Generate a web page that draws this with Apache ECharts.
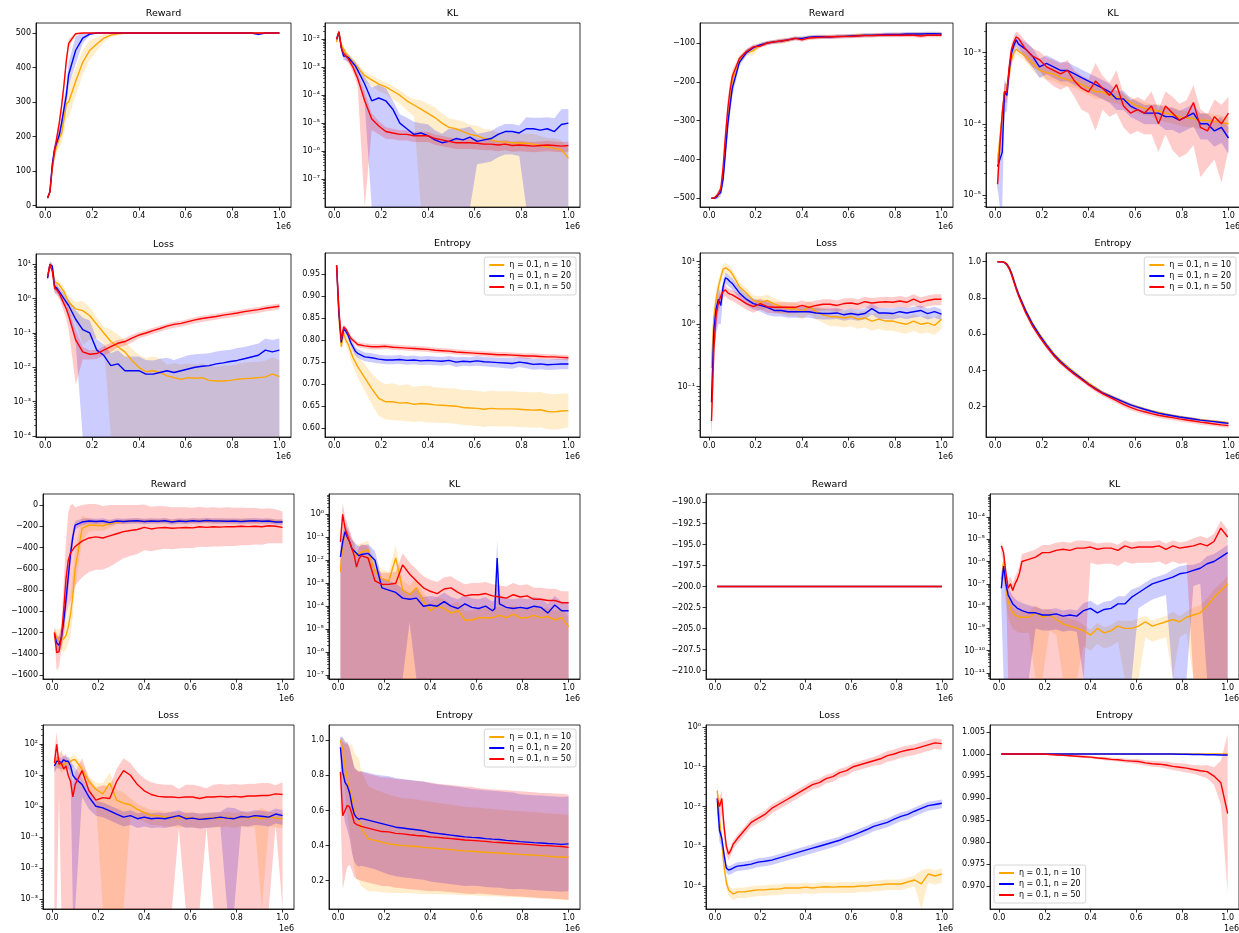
<!DOCTYPE html>
<html><head><meta charset="utf-8">
<script src="https://cdn.jsdelivr.net/npm/echarts@6/dist/echarts.min.js"></script>
<style>html,body{margin:0;padding:0;background:#fff}#c{width:1239px;height:933px}</style>
</head><body><div id="c"></div>
<script>
// ---------- shared x grid (units of 1e6 steps) ----------
const X = [0.01,0.02,0.03,0.04,0.05,0.06,0.07,0.08,0.09,0.10,
  0.13,0.16,0.19,0.22,0.25,0.28,0.31,0.34,0.37,0.40,
  0.43,0.46,0.49,0.52,0.55,0.58,0.61,0.64,0.67,0.70,
  0.73,0.76,0.79,0.82,0.85,0.88,0.91,0.94,0.97,1.00];
const X_SPIKE = [0.01,0.02,0.03,0.04,0.05,0.06,0.07,0.08,0.09,0.10,
  0.13,0.16,0.19,0.22,0.25,0.28,0.31,0.34,0.37,0.40,
  0.43,0.46,0.49,0.52,0.55,0.58,0.61,0.64,0.67,0.68,0.69,0.70,
  0.73,0.76,0.79,0.82,0.85,0.88,0.91,0.94,0.97,1.00];
const X_TICKS = [0, 0.2, 0.4, 0.6, 0.8, 1.0];
const NAMES = ['η = 0.1, n = 10', 'η = 0.1, n = 20', 'η = 0.1, n = 50'];

// ===== Group A (top-left) =====
const A_REW_TICKS = [0,100,200,300,400,500];
const A_REW_M10 = [22,40,110,150,175,195,210,250,295,300, 360,415,450,468,485,494,498,499,500,500, 500,500,500,500,500,500,500,500,500,500, 500,500,500,500,500,500,500,500,500,500];
const A_REW_S10 = [5,5,15,20,20,25,30,40,45,45, 40,35,28,20,12,6,3,2,1,1, 1,1,1,1,1,1,1,1,1,1, 1,1,1,1,1,1,1,1,1,1];
const A_REW_M20 = [22,40,120,165,185,205,240,280,320,380, 450,485,497,500,500,500,500,500,500,500, 500,500,500,500,500,500,500,500,500,500, 500,500,500,500,500,500,496,500,500,500];
const A_REW_S20 = [5,5,12,15,15,18,20,25,30,35, 40,15,4,1,1,1,1,1,1,1, 1,1,1,1,1,1,1,1,1,1, 1,1,1,1,1,1,3,1,1,1];
const A_REW_M50 = [22,40,110,160,200,240,290,350,420,470, 498,500,500,500,500,500,500,500,500,500, 500,500,500,500,500,500,500,500,500,500, 500,500,500,500,500,500,500,500,500,500];
const A_REW_S50 = [5,5,12,15,15,18,20,20,15,12, 3,1,1,1,1,1,1,1,1,1, 1,1,1,1,1,1,1,1,1,1, 1,1,1,1,1,1,1,1,1,1];

// log panels: means as log10 exponents, spread as std / mean
const A_KL_TICKS = [-7,-6,-5,-4,-3,-2];
const A_KL_M10 = [-2.1,-1.75,-2.2,-2.35,-2.5,-2.6,-2.7,-2.8,-2.9,-3.0, -3.3,-3.45,-3.6,-3.7,-3.85,-4.0,-4.2,-4.35,-4.5,-4.65, -4.8,-5.0,-5.15,-5.2,-5.3,-5.4,-5.45,-5.55,-5.6,-5.66, -5.68,-5.7,-5.72,-5.72,-5.75,-5.8,-5.85,-5.9,-5.95,-6.25];
const A_KL_R10 = [0.2,0.2,0.25,0.3,0.3,0.3,0.3,0.35,0.35,0.4, 0.4,0.4,0.45,0.45,0.5,0.5,0.55,0.6,1.1,1.2, 1.3,1.2,1.1,1.1,1.3,1.2,1.3,1.2,1.3,1.1, 1.2,1.2,1.3,1.2,1.3,1.2,1.1,1.3,1.2,1.2];
const A_KL_M20 = [-2.0,-1.75,-2.3,-2.6,-2.6,-2.65,-2.75,-2.85,-2.95,-3.1, -3.6,-4.2,-4.1,-4.2,-4.5,-5.0,-5.2,-5.4,-5.35,-5.45, -5.6,-5.7,-5.65,-5.55,-5.6,-5.5,-5.65,-5.6,-5.55,-5.4, -5.3,-5.3,-5.35,-5.2,-5.2,-5.25,-5.2,-5.3,-5.05,-5.0];
const A_KL_R20 = [0.2,0.2,0.3,0.3,0.3,0.3,0.3,0.35,0.4,0.5, 0.8,2.0,2.0,1.8,1.05,1.1,1.5,1.8,1.2,1.6, 1.2,1.1,1.8,1.2,1.6,1.4,0.85,0.85,0.85,0.85, 0.85,0.85,0.85,1.6,1.5,1.8,1.6,2.0,2.5,2.2];
const A_KL_M50 = [-2.0,-1.72,-2.3,-2.5,-2.6,-2.7,-2.85,-3.0,-3.2,-3.4, -4.2,-4.85,-5.1,-5.3,-5.35,-5.4,-5.4,-5.45,-5.45,-5.45, -5.55,-5.6,-5.65,-5.7,-5.7,-5.7,-5.72,-5.75,-5.75,-5.78, -5.75,-5.8,-5.78,-5.8,-5.82,-5.8,-5.78,-5.8,-5.82,-5.8];
const A_KL_R50 = [0.2,0.2,0.2,0.25,0.3,0.3,0.3,0.35,0.4,0.5, 1.2,0.6,0.5,0.45,0.4,0.4,0.4,0.4,0.4,0.4, 0.4,0.4,0.4,0.4,0.4,0.4,0.4,0.4,0.4,0.4, 0.4,0.4,0.4,0.4,0.4,0.4,0.4,0.4,0.4,0.4];

const A_LOSS_TICKS = [-4,-3,-2,-1,0,1];
const A_LOSS_M10 = [0.6,1.0,0.9,0.5,0.45,0.4,0.3,0.2,0.05,-0.1, -0.3,-0.35,-0.5,-0.75,-1.0,-1.25,-1.4,-1.55,-1.8,-2.0, -2.13,-2.1,-2.15,-2.25,-2.3,-2.35,-2.3,-2.32,-2.3,-2.38, -2.4,-2.4,-2.38,-2.35,-2.33,-2.32,-2.3,-2.28,-2.2,-2.27];
const A_LOSS_R10 = [0.2,0.2,0.2,0.3,0.3,0.3,0.3,0.4,0.4,0.5, 0.6,0.9,0.8,0.6,0.5,1.2,1.3,1.1,1.2,1.3, 1.5,1.6,1.6,1.1,1.6,1.7,1.6,1.5,1.6,1.6, 1.6,1.8,1.7,1.8,1.9,2.0,1.9,2.0,2.1,2.0];
const A_LOSS_M20 = [0.6,1.0,0.95,0.35,0.3,0.2,0.1,0.0,-0.1,-0.2, -0.6,-0.9,-1.0,-1.5,-1.65,-1.95,-1.9,-2.1,-2.1,-2.1, -2.2,-2.2,-2.15,-2.1,-2.15,-2.1,-2.05,-2.0,-1.97,-1.95, -1.9,-1.87,-1.83,-1.8,-1.75,-1.7,-1.65,-1.5,-1.55,-1.5];
const A_LOSS_R20 = [0.2,0.2,0.2,0.3,0.3,0.3,0.35,0.4,0.4,0.5, 0.8,1.2,1.3,1.1,1.05,1.3,1.5,1.6,1.6,1.6, 1.6,1.5,1.5,1.4,1.3,1.4,1.5,1.4,1.3,1.3, 1.3,1.3,1.2,1.3,1.2,1.2,1.2,1.2,1.2,1.2];
const A_LOSS_M50 = [0.65,1.0,0.8,0.3,0.25,0.15,0.0,-0.15,-0.3,-0.5, -1.2,-1.55,-1.62,-1.6,-1.5,-1.4,-1.3,-1.25,-1.15,-1.06, -1.0,-0.93,-0.87,-0.8,-0.75,-0.72,-0.67,-0.62,-0.58,-0.55, -0.52,-0.48,-0.45,-0.42,-0.38,-0.35,-0.32,-0.28,-0.25,-0.22];
const A_LOSS_R50 = [0.2,0.2,0.2,0.3,0.3,0.3,0.35,0.4,0.5,0.6, 0.95,0.4,0.3,0.3,0.3,0.3,0.25,0.25,0.25,0.2, 0.2,0.2,0.2,0.2,0.2,0.2,0.2,0.2,0.2,0.2, 0.2,0.2,0.2,0.2,0.2,0.2,0.2,0.2,0.2,0.2];

const A_ENT_TICKS = [0.60,0.65,0.70,0.75,0.80,0.85,0.90,0.95];
const A_ENT_M10 = [0.97,0.85,0.785,0.815,0.80,0.79,0.775,0.76,0.75,0.74, 0.715,0.69,0.668,0.66,0.66,0.657,0.658,0.654,0.656,0.655, 0.653,0.652,0.651,0.65,0.647,0.646,0.645,0.643,0.645,0.644, 0.644,0.644,0.643,0.642,0.641,0.642,0.638,0.637,0.639,0.64];
const A_ENT_S10 = [0.003,0.005,0.008,0.01,0.012,0.015,0.018,0.02,0.022,0.025, 0.03,0.035,0.04,0.04,0.042,0.04,0.042,0.04,0.04,0.042, 0.04,0.04,0.04,0.04,0.04,0.04,0.04,0.04,0.04,0.04, 0.04,0.04,0.04,0.04,0.04,0.04,0.04,0.04,0.04,0.038];
const A_ENT_M20 = [0.97,0.86,0.795,0.825,0.82,0.81,0.795,0.785,0.775,0.77, 0.762,0.76,0.757,0.755,0.755,0.756,0.754,0.755,0.753,0.754, 0.753,0.752,0.754,0.75,0.752,0.751,0.753,0.751,0.75,0.749, 0.748,0.747,0.75,0.748,0.745,0.746,0.744,0.745,0.746,0.746];
const A_ENT_S20 = [0.004,0.006,0.008,0.008,0.008,0.008,0.008,0.009,0.01,0.01, 0.01,0.01,0.01,0.01,0.01,0.01,0.01,0.01,0.01,0.01, 0.01,0.01,0.01,0.011,0.01,0.01,0.011,0.01,0.011,0.011, 0.012,0.012,0.011,0.012,0.012,0.012,0.012,0.012,0.012,0.012];
const A_ENT_M50 = [0.97,0.87,0.80,0.83,0.825,0.815,0.805,0.80,0.795,0.79, 0.787,0.785,0.785,0.786,0.784,0.783,0.782,0.781,0.78,0.779, 0.777,0.776,0.775,0.773,0.772,0.771,0.77,0.769,0.768,0.767, 0.767,0.766,0.765,0.764,0.764,0.763,0.762,0.762,0.761,0.76];
const A_ENT_S50 = [0.004,0.006,0.006,0.006,0.006,0.006,0.006,0.006,0.006,0.006, 0.006,0.006,0.006,0.006,0.006,0.006,0.006,0.006,0.006,0.006, 0.006,0.006,0.006,0.006,0.006,0.006,0.006,0.006,0.006,0.006, 0.006,0.006,0.006,0.006,0.006,0.006,0.006,0.006,0.006,0.006];

// ===== Group B (top-right) =====
const B_REW_TICKS = [-500,-400,-300,-200,-100];
const B_REW_M10 = [-500,-500,-495,-490,-480,-440,-370,-300,-250,-195, -145,-125,-120,-105,-100,-97,-95,-93,-88,-88, -86,-85,-84,-84,-83,-83,-82,-80,-80,-80, -79,-79,-78,-78,-78,-77,-77,-77,-76,-77];
const B_REW_S10 = [2,2,5,8,10,20,25,25,20,15, 10,8,12,6,5,5,8,5,5,5, 5,5,5,5,5,5,5,5,5,5, 5,5,5,5,5,5,5,5,5,5];
const B_REW_M20 = [-500,-500,-498,-490,-485,-450,-380,-310,-260,-215, -150,-125,-112,-105,-100,-97,-95,-92,-88,-88, -85,-84,-84,-85,-83,-83,-82,-81,-80,-80, -79,-78,-78,-78,-77,-77,-77,-76,-76,-77];
const B_REW_S20 = [2,2,5,10,10,20,30,30,25,20, 10,8,6,5,5,5,5,5,5,5, 5,5,5,5,5,5,5,5,5,5, 5,5,5,5,5,5,5,5,5,5];
const B_REW_M50 = [-500,-500,-495,-488,-475,-420,-340,-270,-220,-185, -140,-122,-110,-108,-100,-97,-95,-92,-88,-92, -87,-86,-85,-84,-84,-83,-83,-82,-81,-81, -80,-80,-80,-80,-80,-80,-82,-80,-80,-80];
const B_REW_S50 = [2,2,5,8,10,20,25,25,20,15, 8,7,6,5,5,5,5,5,5,5, 5,5,5,5,5,5,5,5,5,5, 5,5,5,5,5,5,5,5,5,5];

const B_KL_TICKS = [-5,-4,-3];
const B_KL_M10 = [-4.55,-4.2,-3.9,-3.55,-3.5,-3.3,-3.1,-3.0,-2.95,-2.98, -3.05,-3.15,-3.25,-3.28,-3.3,-3.35,-3.38,-3.4,-3.45,-3.5, -3.55,-3.55,-3.6,-3.62,-3.65,-3.7,-3.75,-3.78,-3.8,-3.82, -3.85,-3.87,-3.9,-3.92,-3.93,-3.95,-3.95,-3.97,-3.98,-4.0];
const B_KL_R10 = [0.2,0.3,0.3,0.3,0.3,0.25,0.2,0.2,0.15,0.15, 0.15,0.2,0.2,0.2,0.2,0.2,0.2,0.2,0.2,0.2, 0.2,0.2,0.2,0.2,0.2,0.2,0.2,0.2,0.2,0.25, 0.25,0.25,0.25,0.25,0.25,0.25,0.25,0.25,0.25,0.25];
const B_KL_M20 = [-4.6,-4.5,-4.4,-3.55,-3.6,-3.25,-3.0,-2.9,-2.82,-2.88, -2.95,-3.05,-3.2,-3.15,-3.2,-3.25,-3.25,-3.3,-3.35,-3.4, -3.45,-3.5,-3.55,-3.65,-3.65,-3.75,-3.8,-3.85,-3.85,-3.85, -3.9,-3.9,-3.95,-3.9,-3.85,-4.0,-4.0,-4.1,-4.05,-4.2];
const B_KL_R20 = [0.5,1.0,1.2,0.5,0.4,0.3,0.25,0.2,0.2,0.2, 0.25,0.3,0.3,0.3,0.3,0.3,0.3,0.3,0.3,0.3, 0.3,0.3,0.3,0.3,0.3,0.3,0.3,0.3,0.3,0.3, 0.35,0.35,0.35,0.35,0.35,0.4,0.4,0.4,0.4,0.4];
const B_KL_M50 = [-4.85,-4.3,-3.85,-3.55,-3.55,-3.2,-2.95,-2.85,-2.78,-2.8, -2.95,-3.05,-3.1,-3.2,-3.25,-3.3,-3.25,-3.4,-3.5,-3.55, -3.4,-3.5,-3.6,-3.45,-3.75,-3.85,-3.8,-3.85,-3.75,-4.0, -3.75,-3.85,-3.95,-3.9,-3.7,-4.05,-4.1,-3.9,-4.0,-3.85];
const B_KL_R50 = [0.3,0.3,0.3,0.3,0.3,0.3,0.2,0.2,0.2,0.2, 0.3,0.3,0.3,0.35,0.4,0.4,0.4,0.4,0.5,0.5, 0.8,0.5,0.5,0.6,0.5,0.5,0.5,0.5,0.6,0.6, 0.6,0.7,0.7,0.7,0.75,0.8,0.7,0.75,0.85,0.7];

const B_LOSS_TICKS = [-1,0,1];
const B_LOSS_M10 = [-0.7,0.1,0.4,0.6,0.75,0.88,0.9,0.88,0.85,0.8, 0.6,0.5,0.38,0.35,0.38,0.32,0.28,0.25,0.25,0.2, 0.28,0.2,0.15,0.12,0.12,0.1,0.12,0.08,0.1,0.05, 0.08,0.05,0.05,0.02,0.0,0.05,0.0,0.02,-0.02,0.08];
const B_LOSS_R10 = [1.0,0.5,0.4,0.3,0.2,0.2,0.2,0.2,0.2,0.2, 0.2,0.2,0.2,0.25,0.25,0.25,0.25,0.25,0.25,0.25, 0.25,0.25,0.25,0.3,0.3,0.3,0.3,0.3,0.3,0.3, 0.3,0.3,0.3,0.3,0.3,0.3,0.3,0.3,0.3,0.3];
const B_LOSS_M20 = [-1.25,-0.1,0.25,0.4,0.3,0.6,0.74,0.72,0.68,0.65, 0.5,0.4,0.33,0.3,0.27,0.22,0.22,0.2,0.2,0.2, 0.2,0.18,0.17,0.17,0.18,0.15,0.17,0.15,0.17,0.25, 0.18,0.18,0.17,0.2,0.18,0.2,0.22,0.17,0.2,0.16];
const B_LOSS_R20 = [1.2,0.6,0.6,0.6,0.5,0.3,0.2,0.2,0.2,0.2, 0.2,0.2,0.2,0.2,0.25,0.2,0.2,0.2,0.2,0.2, 0.2,0.2,0.2,0.2,0.2,0.2,0.2,0.2,0.2,0.2, 0.2,0.2,0.2,0.2,0.2,0.2,0.2,0.2,0.2,0.2];
const B_LOSS_M50 = [-1.55,-0.4,0.15,0.35,0.45,0.52,0.55,0.5,0.48,0.47, 0.4,0.33,0.28,0.33,0.28,0.27,0.27,0.27,0.27,0.3, 0.27,0.3,0.32,0.32,0.3,0.33,0.34,0.32,0.36,0.34, 0.35,0.36,0.35,0.37,0.35,0.4,0.35,0.38,0.4,0.4];
const B_LOSS_R50 = [1.2,0.6,0.4,0.3,0.25,0.2,0.2,0.2,0.2,0.2, 0.2,0.2,0.2,0.2,0.2,0.2,0.2,0.2,0.2,0.2, 0.2,0.2,0.2,0.2,0.2,0.2,0.2,0.2,0.2,0.2, 0.2,0.2,0.2,0.2,0.2,0.2,0.2,0.2,0.2,0.2];

const B_ENT_TICKS = [0.2,0.4,0.6,0.8,1.0];
const B_ENT_M10 = [1.0,1.0,1.0,0.997,0.99,0.97,0.94,0.9,0.86,0.825, 0.735,0.66,0.6,0.545,0.495,0.455,0.42,0.39,0.36,0.33, 0.305,0.28,0.262,0.245,0.228,0.212,0.2,0.188,0.177,0.168, 0.16,0.152,0.145,0.14,0.134,0.128,0.124,0.12,0.116,0.112];
const B_ENT_S10 = [0.002,0.002,0.003,0.004,0.005,0.006,0.007,0.008,0.008,0.008, 0.008,0.008,0.008,0.008,0.008,0.007,0.007,0.007,0.007,0.006, 0.006,0.006,0.006,0.006,0.006,0.006,0.006,0.006,0.006,0.006, 0.006,0.006,0.006,0.006,0.006,0.006,0.006,0.006,0.006,0.006];
const B_ENT_M20 = [1.0,1.0,1.0,0.995,0.985,0.965,0.935,0.895,0.855,0.82, 0.73,0.655,0.595,0.54,0.49,0.45,0.415,0.385,0.355,0.325, 0.3,0.277,0.26,0.243,0.227,0.21,0.198,0.186,0.175,0.165, 0.157,0.15,0.143,0.138,0.132,0.126,0.122,0.118,0.113,0.108];
const B_ENT_S20 = [0.002,0.002,0.004,0.006,0.008,0.01,0.012,0.014,0.015,0.015, 0.015,0.015,0.015,0.014,0.013,0.012,0.012,0.011,0.011,0.01, 0.01,0.01,0.01,0.01,0.01,0.01,0.009,0.009,0.009,0.008, 0.008,0.008,0.008,0.008,0.008,0.008,0.008,0.008,0.008,0.008];
const B_ENT_M50 = [1.0,1.0,1.0,0.995,0.983,0.96,0.928,0.888,0.848,0.812, 0.72,0.645,0.585,0.532,0.483,0.443,0.41,0.378,0.35,0.322, 0.296,0.272,0.253,0.233,0.213,0.196,0.183,0.172,0.162,0.153, 0.146,0.14,0.133,0.127,0.121,0.115,0.11,0.105,0.1,0.096];
const B_ENT_S50 = [0.002,0.002,0.004,0.006,0.008,0.01,0.012,0.013,0.013,0.013, 0.012,0.012,0.012,0.012,0.012,0.012,0.012,0.012,0.012,0.012, 0.013,0.013,0.014,0.014,0.015,0.015,0.015,0.015,0.015,0.015, 0.015,0.015,0.015,0.014,0.014,0.014,0.013,0.013,0.013,0.012];

// ===== Group C (bottom-left) =====
const C_REW_TICKS = [-1600,-1400,-1200,-1000,-800,-600,-400,-200,0];
const C_REW_M10 = [-1200,-1250,-1270,-1260,-1260,-1230,-1150,-1030,-850,-600, -220,-190,-190,-195,-175,-160,-155,-150,-150,-152, -150,-152,-150,-155,-150,-152,-150,-148,-150,-152, -150,-150,-152,-150,-150,-155,-152,-150,-155,-158];
const C_REW_S10 = [30,80,100,100,130,130,150,200,200,180, 120,60,50,50,40,20,20,20,20,20, 20,20,20,20,20,20,20,20,20,20, 20,20,20,20,20,20,20,20,20,20];
const C_REW_M20 = [-1210,-1300,-1320,-1250,-1100,-900,-680,-460,-300,-190, -160,-150,-155,-150,-165,-150,-155,-150,-148,-155, -150,-152,-148,-160,-150,-155,-148,-152,-145,-150, -150,-152,-150,-155,-150,-148,-152,-150,-160,-160];
const C_REW_S20 = [30,60,80,80,100,120,130,100,70,40, 30,25,25,25,25,25,25,25,25,25, 25,25,25,25,25,25,25,25,25,25, 25,25,25,25,25,25,25,25,25,25];
const C_REW_M50 = [-1200,-1390,-1380,-1250,-1000,-700,-520,-450,-420,-390, -340,-310,-300,-310,-290,-270,-250,-240,-230,-210, -225,-215,-212,-218,-215,-212,-215,-205,-210,-205, -208,-203,-205,-200,-203,-200,-205,-195,-200,-210];
const C_REW_S50 = [60,170,140,120,250,350,450,450,430,370, 340,320,310,300,290,270,250,240,230,215, 210,205,200,198,195,192,190,188,185,185, 183,182,180,178,175,172,170,165,160,150];

const C_KL_TICKS = [-7,-6,-5,-4,-3,-2,-1,0];
const C_KL_M10 = [-2.5,-1.3,-0.85,-1.0,-1.3,-1.5,-1.6,-1.8,-1.7,-1.65, -1.55,-2.5,-2.8,-2.9,-1.9,-3.3,-3.5,-3.2,-3.8,-4.2, -4.0,-4.1,-4.3,-4.2,-4.6,-4.6,-4.5,-4.5,-4.5,-4.4, -4.5,-4.35,-4.5,-4.5,-4.4,-4.5,-4.45,-4.6,-4.5,-4.9];
const C_KL_R10 = [1.5,1.5,1.5,1.5,1.5,1.5,1.5,1.5,1.5,1.5, 1.5,1.5,1.5,1.5,2.5,1.5,1.5,1.5,1.5,1.5, 1.5,1.5,1.5,1.5,1.5,1.5,1.5,1.5,1.5,1.5, 1.5,1.5,1.5,1.5,1.5,1.5,1.5,1.5,1.5,1.5];
const C_KL_M20 = [-1.85,-1.2,-0.75,-1.0,-1.2,-1.5,-1.6,-1.7,-1.8,-1.75, -1.7,-2.0,-3.2,-3.3,-3.4,-3.65,-3.7,-3.65,-4.0,-3.95, -4.0,-3.8,-4.0,-4.1,-3.9,-4.05,-4.1,-4.0,-4.2,-4.1,-1.9,-3.9, -4.05,-4.1,-4.05,-4.1,-4.0,-4.05,-4.3,-3.95,-4.2,-4.2];
const C_KL_R20 = [1.5,1.5,1.5,1.5,1.5,1.5,1.5,1.5,1.5,1.5, 1.5,1.5,1.5,1.5,1.5,1.5,0.9,1.5,1.5,1.5, 1.5,1.5,1.5,1.5,1.5,1.5,1.5,1.5,1.5,1.5,5,1.5, 1.5,1.5,1.5,1.5,1.5,1.5,1.5,1.5,1.5,1.5];
const C_KL_M50 = [-1.2,0.0,-0.6,-0.9,-1.2,-1.5,-1.8,-2.3,-1.95,-1.8, -1.9,-2.9,-3.05,-3.05,-3.0,-2.2,-2.6,-2.9,-3.2,-3.35, -3.45,-3.25,-3.2,-3.4,-3.55,-3.5,-3.5,-3.45,-3.55,-3.6, -3.65,-3.5,-3.6,-3.55,-3.7,-3.7,-3.75,-3.75,-3.85,-3.85];
const C_KL_R50 = [2.2,2.0,2.2,2.2,2.2,2.2,2.2,2.2,2.2,2.2, 2.2,2.2,2.2,2.2,2.2,2.2,2.2,2.2,2.2,2.2, 2.2,2.2,2.2,2.2,2.2,2.2,2.2,2.2,2.2,2.2, 2.2,2.2,2.2,2.2,2.2,2.2,2.2,2.2,2.2,2.2];

const C_LOSS_TICKS = [-3,-2,-1,0,1,2];
const C_LOSS_M10 = [1.3,1.5,1.4,1.3,1.35,1.4,1.4,1.45,1.5,1.5, 1.2,0.8,0.55,0.4,0.75,0.2,0.1,0.05,-0.1,-0.2, -0.3,-0.3,-0.35,-0.35,-0.38,-0.35,-0.38,-0.4,-0.38,-0.37, -0.38,-0.35,-0.4,-0.35,-0.38,-0.35,-0.4,-0.35,-0.38,-0.4];
const C_LOSS_R10 = [0.4,0.4,0.4,0.4,0.4,0.4,0.4,0.4,0.4,0.4, 0.5,0.5,0.6,1.2,1.2,1.2,1.2,0.6,0.5,0.5, 0.5,0.5,0.5,0.5,0.5,0.5,0.5,0.5,0.5,0.5, 0.5,0.5,0.5,0.5,0.5,0.5,1.2,0.5,0.5,0.5];
const C_LOSS_M20 = [1.3,1.45,1.45,1.4,1.5,1.45,1.45,1.3,1.0,0.9, 0.7,0.3,0.0,-0.05,-0.15,-0.25,-0.35,-0.3,-0.4,-0.35, -0.4,-0.38,-0.4,-0.35,-0.3,-0.4,-0.38,-0.42,-0.4,-0.38, -0.35,-0.38,-0.4,-0.33,-0.35,-0.3,-0.32,-0.35,-0.25,-0.3];
const C_LOSS_R20 = [0.4,0.4,0.4,0.4,0.4,0.4,0.4,0.5,1.2,1.2, 0.6,0.6,0.5,0.5,0.5,0.5,0.5,0.5,0.5,0.5, 0.5,0.5,0.5,0.5,0.5,0.5,0.5,0.5,0.5,0.5, 0.5,1.2,1.2,0.5,0.5,0.5,0.5,0.5,0.5,0.5];
const C_LOSS_M50 = [1.4,2.0,1.35,1.4,1.2,1.3,1.0,0.8,0.3,0.7, 1.15,0.5,0.2,0.28,0.25,0.8,1.15,1.0,0.7,0.5, 0.38,0.32,0.3,0.3,0.28,0.3,0.3,0.25,0.3,0.3, 0.32,0.3,0.32,0.3,0.33,0.33,0.35,0.35,0.4,0.38];
const C_LOSS_R50 = [1.5,1.5,0.9,1.5,1.5,1.5,1.5,1.5,1.5,1.5, 1.5,1.5,1.5,1.5,1.5,1.5,1.5,1.5,1.5,1.5, 1.5,1.5,1.5,1.5,0.9,1.5,1.5,1.5,0.9,1.5, 1.5,1.5,1.5,1.5,1.5,1.5,1.5,1.5,0.9,1.5];

const C_ENT_TICKS = [0.2,0.4,0.6,0.8,1.0];
const C_ENT_M10 = [1.0,0.95,0.85,0.78,0.72,0.68,0.6,0.56,0.55,0.5, 0.44,0.43,0.42,0.41,0.405,0.40,0.398,0.395,0.39,0.387, 0.384,0.38,0.377,0.373,0.37,0.368,0.365,0.362,0.36,0.358, 0.355,0.353,0.35,0.348,0.346,0.343,0.34,0.337,0.335,0.333];
const C_ENT_S10 = [0.02,0.06,0.15,0.2,0.25,0.3,0.33,0.35,0.35,0.33, 0.3,0.29,0.285,0.28,0.275,0.27,0.27,0.268,0.265,0.263, 0.26,0.258,0.256,0.254,0.252,0.25,0.25,0.25,0.248,0.248, 0.247,0.246,0.246,0.245,0.245,0.244,0.244,0.244,0.243,0.243];
const C_ENT_M20 = [0.96,0.82,0.76,0.74,0.7,0.63,0.58,0.56,0.55,0.555, 0.545,0.535,0.525,0.515,0.505,0.5,0.495,0.49,0.485,0.475, 0.47,0.465,0.46,0.455,0.45,0.447,0.445,0.44,0.437,0.435, 0.43,0.427,0.423,0.42,0.417,0.415,0.412,0.41,0.407,0.41];
const C_ENT_S20 = [0.06,0.2,0.23,0.25,0.26,0.27,0.27,0.27,0.27,0.27, 0.27,0.27,0.275,0.28,0.28,0.28,0.28,0.28,0.28,0.28, 0.28,0.28,0.28,0.28,0.28,0.275,0.275,0.275,0.275,0.275, 0.275,0.275,0.27,0.27,0.27,0.27,0.27,0.27,0.27,0.27];
const C_ENT_M50 = [0.82,0.57,0.6,0.63,0.62,0.58,0.53,0.52,0.515,0.51, 0.5,0.49,0.48,0.478,0.47,0.467,0.462,0.458,0.455,0.45, 0.447,0.443,0.44,0.436,0.432,0.43,0.427,0.424,0.42,0.418, 0.415,0.412,0.41,0.407,0.404,0.4,0.4,0.397,0.395,0.39];
const C_ENT_S50 = [0.2,0.42,0.38,0.35,0.33,0.32,0.31,0.31,0.31,0.31, 0.31,0.31,0.31,0.31,0.31,0.31,0.31,0.31,0.31,0.31, 0.305,0.305,0.305,0.305,0.305,0.305,0.3,0.3,0.3,0.3, 0.3,0.3,0.3,0.3,0.3,0.3,0.3,0.3,0.3,0.3];

// ===== Group D (bottom-right) =====
const D_REW_TICKS = [-210,-207.5,-205,-202.5,-200,-197.5,-195,-192.5,-190];
const D_REW_M10 = [-200,-200,-200,-200,-200,-200,-200,-200,-200,-200, -200,-200,-200,-200,-200,-200,-200,-200,-200,-200, -200,-200,-200,-200,-200,-200,-200,-200,-200,-200, -200,-200,-200,-200,-200,-200,-200,-200,-200,-200];
const D_REW_M20 = [-200,-200,-200,-200,-200,-200,-200,-200,-200,-200, -200,-200,-200,-200,-200,-200,-200,-200,-200,-200, -200,-200,-200,-200,-200,-200,-200,-200,-200,-200, -200,-200,-200,-200,-200,-200,-200,-200,-200,-200];
const D_REW_M50 = [-200,-200,-200,-200,-200,-200,-200,-200,-200,-200, -200,-200,-200,-200,-200,-200,-200,-200,-200,-200, -200,-200,-200,-200,-200,-200,-200,-200,-200,-200, -200,-200,-200,-200,-200,-200,-200,-200,-200,-200];
const D_REW_S = [0,0,0,0,0,0,0,0,0,0, 0,0,0,0,0,0,0,0,0,0, 0,0,0,0,0,0,0,0,0,0, 0,0,0,0,0,0,0,0,0,0];

const D_KL_TICKS = [-11,-10,-9,-8,-7,-6,-5,-4];
const D_KL_M10 = [-6.8,-6.0,-7.2,-7.8,-8.1,-8.3,-8.4,-8.45,-8.5,-8.5, -8.5,-8.3,-8.5,-8.4,-8.6,-8.8,-8.9,-9.0,-9.1,-9.3, -9.0,-9.2,-9.1,-8.9,-9.0,-9.0,-8.9,-8.7,-8.9,-8.8, -8.7,-8.6,-8.7,-8.5,-8.4,-8.3,-8.0,-7.6,-7.3,-7.0];
const D_KL_R10 = [0.8,0.8,0.8,0.8,0.8,0.8,0.8,0.8,0.8,0.8, 0.8,1.2,1.2,0.8,0.8,1.2,1.2,1.2,0.8,0.8, 0.8,0.8,0.8,0.8,1.2,1.2,1.2,0.8,0.8,0.8, 0.8,1.2,0.8,0.8,1.2,1.2,1.2,1.2,1.2,1.2];
const D_KL_M20 = [-7.2,-6.2,-7.0,-7.5,-7.7,-7.9,-8.0,-8.1,-8.15,-8.2, -8.3,-8.3,-8.4,-8.4,-8.35,-8.45,-8.4,-8.45,-8.2,-8.1, -8.3,-8.15,-8.1,-7.9,-7.9,-7.6,-7.4,-7.2,-7.0,-6.9, -6.8,-6.7,-6.55,-6.5,-6.4,-6.3,-6.1,-6.0,-5.8,-5.6];
const D_KL_R20 = [0.8,1.2,1.2,1.2,1.2,1.2,1.2,1.2,1.2,1.2, 1.2,0.8,0.8,0.8,0.8,0.8,0.8,0.8,1.2,1.2, 1.2,1.2,1.2,1.2,1.2,1.2,0.8,0.8,0.8,0.8, 0.8,1.2,1.2,1.2,0.8,0.8,1.2,1.2,1.2,1.2];
const D_KL_M50 = [-5.3,-5.6,-6.5,-7.2,-7.0,-7.3,-7.0,-6.8,-6.5,-6.0, -5.9,-5.8,-5.6,-5.6,-5.5,-5.45,-5.5,-5.4,-5.4,-5.35, -5.45,-5.4,-5.4,-5.5,-5.3,-5.4,-5.35,-5.35,-5.35,-5.3, -5.45,-5.3,-5.4,-5.35,-5.3,-5.2,-5.3,-5.1,-4.5,-4.9];
const D_KL_R50 = [0.6,0.6,0.6,1.2,1.2,1.2,1.2,1.2,1.2,1.2, 1.2,1.2,1.2,1.2,1.2,1.2,1.2,1.2,1.2,0.8, 0.8,0.8,0.8,0.8,0.8,0.8,0.8,0.8,0.8,0.8, 0.8,0.8,0.8,0.8,1.2,1.2,1.2,1.2,1.2,1.2];

const D_LOSS_TICKS = [-4,-3,-2,-1,0];
const D_LOSS_M10 = [-1.6,-2.3,-2.9,-3.5,-3.9,-4.1,-4.15,-4.2,-4.18,-4.15, -4.15,-4.12,-4.1,-4.1,-4.08,-4.08,-4.05,-4.05,-4.05,-4.03, -4.05,-4.03,-4.02,-4.03,-4.02,-4.02,-4.02,-4.0,-4.0,-3.98, -3.97,-3.95,-3.95,-3.95,-3.9,-3.85,-3.95,-3.7,-3.75,-3.7];
const D_LOSS_R10 = [0.6,0.5,0.4,0.4,0.3,0.3,0.3,0.3,0.3,0.3, 0.3,0.3,0.3,0.3,0.3,0.3,0.3,0.3,0.3,0.3, 0.3,0.3,0.3,0.3,0.3,0.3,0.3,0.3,0.3,0.3, 0.3,0.3,0.3,0.3,0.3,0.3,1.2,0.4,0.4,0.4];
const D_LOSS_M20 = [-1.8,-2.6,-2.8,-3.2,-3.55,-3.6,-3.58,-3.55,-3.52,-3.5, -3.48,-3.45,-3.4,-3.38,-3.35,-3.3,-3.25,-3.2,-3.15,-3.1, -3.05,-3.0,-2.95,-2.9,-2.85,-2.78,-2.72,-2.65,-2.58,-2.5, -2.45,-2.4,-2.32,-2.25,-2.2,-2.12,-2.05,-1.98,-1.95,-1.92];
const D_LOSS_R20 = [0.6,0.5,0.4,0.3,0.25,0.25,0.25,0.25,0.25,0.25, 0.25,0.25,0.25,0.25,0.25,0.25,0.25,0.25,0.25,0.25, 0.25,0.25,0.25,0.25,0.25,0.25,0.25,0.25,0.25,0.25, 0.25,0.25,0.25,0.25,0.25,0.25,0.25,0.25,0.25,0.25];
const D_LOSS_M50 = [-1.8,-2.0,-1.8,-2.5,-3.0,-3.2,-3.1,-2.95,-2.88,-2.8, -2.6,-2.4,-2.3,-2.2,-2.05,-1.95,-1.85,-1.75,-1.65,-1.55, -1.45,-1.4,-1.3,-1.25,-1.15,-1.1,-1.0,-0.95,-0.9,-0.85, -0.8,-0.72,-0.68,-0.62,-0.58,-0.55,-0.5,-0.45,-0.4,-0.42];
const D_LOSS_R50 = [0.6,0.6,0.6,0.5,0.4,0.3,0.25,0.25,0.25,0.25, 0.25,0.25,0.25,0.25,0.25,0.25,0.25,0.25,0.25,0.25, 0.25,0.25,0.25,0.25,0.25,0.25,0.25,0.25,0.25,0.25, 0.3,0.3,0.3,0.3,0.3,0.3,0.3,0.3,0.3,0.3];

const D_ENT_TICKS = [0.970,0.975,0.980,0.985,0.990,0.995,1.000,1.005];
const D_ENT_M10 = [1,1,1,1,1,1,1,1,1,1, 1,1,1,1,1,1,1,1,1,1, 1,1,1,1,1,1,1,1,1,1, 1,1,1,1,1,1,1,1,1,1];
const D_ENT_S10 = [0,0,0,0,0,0,0,0,0,0, 0,0,0,0,0,0,0,0,0,0, 0,0,0,0,0,0,0,0,0,0, 0,0,0,0,0,0,0,0,0,0];
const D_ENT_M20 = [1,1,1,1,1,1,1,1,1,1, 1,1,1,1,1,1,1,1,1,1, 1,1,1,1,1,1,1,1,1,1, 1,1,0.99995,0.99995,0.9999,0.9999,0.99985,0.99985,0.9998,0.9998];
const D_ENT_S20 = [0,0,0,0,0,0,0,0,0,0, 0,0,0,0,0,0,0,0,0,0, 0.00002,0.00002,0.00002,0.00002,0.00003,0.00003,0.00003,0.00003,0.00004,0.00004, 0.00004,0.00004,0.00005,0.00005,0.00005,0.00005,0.00005,0.00005,0.00005,0.00005];
const D_ENT_M50 = [1,1,1,1,1,1,1,1,1,1, 1,1,1,0.9999,0.9998,0.9997,0.9996,0.9995,0.9994,0.9993, 0.9991,0.999,0.9988,0.9987,0.9985,0.9984,0.9983,0.998,0.9978,0.9977, 0.9975,0.9972,0.997,0.9968,0.9965,0.9962,0.996,0.995,0.9935,0.9865];
const D_ENT_S50 = [0,0,0,0,0,0,0,0,0,0, 0,0,0,0.0001,0.0001,0.0002,0.0002,0.0002,0.0003,0.0003, 0.0003,0.0004,0.0004,0.0004,0.0005,0.0005,0.0006,0.0006,0.0007,0.0007, 0.0008,0.0008,0.0009,0.001,0.001,0.0012,0.0015,0.002,0.005,0.018];

// ---------- styling & layout ----------
const FONT = 'DejaVu Sans';
const LINE_COLORS = ['#FFA500', '#0000FF', '#FF0000'];
const BAND_COLORS = ['rgba(255,165,0,0.2)', 'rgba(0,0,255,0.2)', 'rgba(255,0,0,0.2)'];
const XMIN = -0.0395, XMAX = 1.0495;
const minus = s => s.replace('-', '\u2212');
const fmtInt = v => minus(String(Math.round(v)));
const fmt1 = v => minus(v.toFixed(1));
const fmt2 = v => v.toFixed(2);
const fmt3 = v => v.toFixed(3);
const SUP = {'-':'\u207B','0':'\u2070','1':'\u00B9','2':'\u00B2','3':'\u00B3','4':'\u2074','5':'\u2075','6':'\u2076','7':'\u2077','8':'\u2078','9':'\u2079'};
const fmtLog = v => '10' + String(Math.round(Math.log10(v))).split('').map(c => SUP[c]).join('');

const PANELS = [
  {t:'Reward', box:[36,23,255,184], log:false, y:[-4,529], yt:A_REW_TICKS, fmt:fmtInt,
   m:[A_REW_M10,A_REW_M20,A_REW_M50], s:[A_REW_S10,A_REW_S20,A_REW_S50]},
  {t:'KL', box:[325,23,255,184], log:true, y:[-8.0,-1.416], yt:A_KL_TICKS,
   m:[A_KL_M10,A_KL_M20,A_KL_M50], s:[A_KL_R10,A_KL_R20,A_KL_R50]},
  {t:'Loss', box:[36,254,255,183], log:true, y:[-4.03,1.3], yt:A_LOSS_TICKS,
   m:[A_LOSS_M10,A_LOSS_M20,A_LOSS_M50], s:[A_LOSS_R10,A_LOSS_R20,A_LOSS_R50]},
  {t:'Entropy', box:[325,253,255,184], log:false, y:[0.580,0.998], yt:A_ENT_TICKS, fmt:fmt2,
   m:[A_ENT_M10,A_ENT_M20,A_ENT_M50], s:[A_ENT_S10,A_ENT_S20,A_ENT_S50], legend:'tr'},

  {t:'Reward', box:[700,23,253,184], log:false, y:[-522.5,-48.5], yt:B_REW_TICKS, fmt:fmtInt,
   m:[B_REW_M10,B_REW_M20,B_REW_M50], s:[B_REW_S10,B_REW_S20,B_REW_S50]},
  {t:'KL', box:[986,23,254,184], log:true, y:[-5.17,-2.583], yt:B_KL_TICKS,
   m:[B_KL_M10,B_KL_M20,B_KL_M50], s:[B_KL_R10,B_KL_R20,B_KL_R50]},
  {t:'Loss', box:[700,253,253,184], log:true, y:[-1.805,1.139], yt:B_LOSS_TICKS,
   m:[B_LOSS_M10,B_LOSS_M20,B_LOSS_M50], s:[B_LOSS_R10,B_LOSS_R20,B_LOSS_R50]},
  {t:'Entropy', box:[986,253,254,184], log:false, y:[0.033,1.048], yt:B_ENT_TICKS, fmt:fmt1,
   m:[B_ENT_M10,B_ENT_M20,B_ENT_M50], s:[B_ENT_S10,B_ENT_S20,B_ENT_S50], legend:'tr'},

  {t:'Reward', box:[43,494,251,185], log:false, y:[-1638,104], yt:C_REW_TICKS, fmt:fmtInt,
   m:[C_REW_M10,C_REW_M20,C_REW_M50], s:[C_REW_S10,C_REW_S20,C_REW_S50]},
  {t:'KL', box:[329,494,251,185], log:true, y:[-7.17,0.885], yt:C_KL_TICKS,
   m:[C_KL_M10,C_KL_M20,C_KL_M50], s:[C_KL_R10,C_KL_R20,C_KL_R50], xs:[X,X_SPIKE,X]},
  {t:'Loss', box:[43,725,251,184], log:true, y:[-3.31,2.62], yt:C_LOSS_TICKS,
   m:[C_LOSS_M10,C_LOSS_M20,C_LOSS_M50], s:[C_LOSS_R10,C_LOSS_R20,C_LOSS_R50]},
  {t:'Entropy', box:[329,725,251,184], log:false, y:[0.039,1.087], yt:C_ENT_TICKS, fmt:fmt1,
   m:[C_ENT_M10,C_ENT_M20,C_ENT_M50], s:[C_ENT_S10,C_ENT_S20,C_ENT_S50], legend:'tr'},

  {t:'Reward', box:[706,494,247,185], log:false, y:[-211,-189], yt:D_REW_TICKS, fmt:fmt1,
   m:[D_REW_M10,D_REW_M20,D_REW_M50], s:[D_REW_S,D_REW_S,D_REW_S]},
  {t:'KL', box:[990,494,249,185], log:true, y:[-11.27,-2.97], yt:D_KL_TICKS,
   m:[D_KL_M10,D_KL_M20,D_KL_M50], s:[D_KL_R10,D_KL_R20,D_KL_R50]},
  {t:'Loss', box:[706,725,247,184], log:true, y:[-4.58,0.05], yt:D_LOSS_TICKS,
   m:[D_LOSS_M10,D_LOSS_M20,D_LOSS_M50], s:[D_LOSS_R10,D_LOSS_R20,D_LOSS_R50]},
  {t:'Entropy', box:[990,725,249,184], log:false, y:[0.9648,1.0066], yt:D_ENT_TICKS, fmt:fmt3,
   m:[D_ENT_M10,D_ENT_M20,D_ENT_M50], s:[D_ENT_S10,D_ENT_S20,D_ENT_S50], legend:'bl'}
];

function minorTicks(lo, hi) {
  const out = [];
  for (let k = Math.floor(lo); k <= Math.ceil(hi); k++) {
    for (let d = 2; d <= 9; d++) {
      const v = d * Math.pow(10, k), e = Math.log10(v);
      if (e > lo && e < hi) out.push(v);
    }
  }
  return out;
}

const AXIS_LINE = {show:true, onZero:false, lineStyle:{color:'#000', width:0.8}};
const grid = [], xAxis = [], yAxis = [], bands = [], lines = [], graphic = [], legend = [];

PANELS.forEach((p, gi) => {
  const [L, T, W, H] = p.box;
  grid.push({left:L, top:T, width:W, height:H, show:true, borderColor:'#000', borderWidth:0.8,
             containLabel:false, outerBoundsMode:'none'});
  xAxis.push({type:'value', gridIndex:gi, min:XMIN, max:XMAX, axisLine:AXIS_LINE,
    axisTick:{show:true, length:3.5, customValues:X_TICKS, lineStyle:{color:'#000', width:0.8}},
    axisLabel:{customValues:X_TICKS, formatter:v => v.toFixed(1), fontSize:8, color:'#000', fontFamily:FONT, margin:5},
    splitLine:{show:false}});
  const yMin = p.log ? Math.pow(10, p.y[0]) : p.y[0];
  const yMax = p.log ? Math.pow(10, p.y[1]) : p.y[1];
  const yTicks = p.log ? p.yt.map(e => Math.pow(10, e)) : p.yt;
  const yi = yAxis.length;
  yAxis.push({type:p.log ? 'log' : 'value', logBase:10, gridIndex:gi, position:'left', min:yMin, max:yMax,
    axisLine:AXIS_LINE,
    axisTick:{show:true, length:3.5, customValues:yTicks, lineStyle:{color:'#000', width:0.8}},
    axisLabel:{customValues:yTicks, formatter:p.log ? fmtLog : p.fmt, fontSize:8, color:'#000', fontFamily:FONT, margin:5},
    splitLine:{show:false}});
  if (p.log) {
    yAxis.push({type:'log', logBase:10, gridIndex:gi, position:'left', offset:0, min:yMin, max:yMax,
      axisLine:{show:false, onZero:false},
      axisTick:{show:true, length:2, customValues:minorTicks(p.y[0], p.y[1]), lineStyle:{color:'#000', width:0.6}},
      axisLabel:{show:false}, splitLine:{show:false}});
  }
  for (let j = 0; j < 3; j++) {
    const xs = (p.xs && p.xs[j]) || X;
    const mean = p.log ? p.m[j].map(e => Math.pow(10, e)) : p.m[j];
    const std = p.log ? mean.map((v, i) => v * p.s[j][i]) : p.s[j];
    const clampY = v => Math.min(Math.max(v, yMin), yMax);
    const bandData = xs.map((x, i) => [x, clampY(mean[i] - std[i]), clampY(mean[i] + std[i])]);
    bands.push({type:'custom', xAxisIndex:gi, yAxisIndex:yi, silent:true, z:1, animation:false,
      data:bandData, encode:{x:0, y:[1, 2]},
      renderItem:(params, api) => {
        if (params.dataIndex !== 0) return null;
        const up = [], dn = [];
        bandData.forEach(d => { up.push(api.coord([d[0], d[2]])); dn.push(api.coord([d[0], d[1]])); });
        return {type:'polygon', shape:{points:up.concat(dn.reverse())}, style:{fill:BAND_COLORS[j]}};
      }});
    lines.push({type:'line', name:NAMES[j], xAxisIndex:gi, yAxisIndex:yi, z:2, showSymbol:false, symbol:'none',
      animation:false, silent:true, clip:true,
      data:xs.map((x, i) => [x, mean[i]]),
      itemStyle:{color:LINE_COLORS[j]}, lineStyle:{color:LINE_COLORS[j], width:1.4}});
  }
  graphic.push({type:'text', x:L + W / 2, y:T - 9, silent:true,
    style:{text:p.t, fontSize:9.5, fontFamily:FONT, fill:'#000', align:'center', verticalAlign:'middle'}});
  graphic.push({type:'text', x:L + W, y:T + H + 20, silent:true,
    style:{text:'1e6', fontSize:8, fontFamily:FONT, fill:'#000', align:'right', verticalAlign:'middle'}});
  if (p.legend) {
    const lg = {orient:'vertical', data:NAMES, icon:'rect', itemWidth:15, itemHeight:2, itemGap:3,
      padding:[4,5,4,5], borderColor:'#cccccc', borderWidth:0.8, borderRadius:2,
      backgroundColor:'rgba(255,255,255,0.8)', selectedMode:false,
      textStyle:{fontSize:8, fontFamily:FONT, color:'#000'}};
    if (p.legend === 'tr') { lg.right = Math.max(1239 - (L + W - 4), 2); lg.top = T + 4; }
    else { lg.left = L + 4; lg.top = T + H - 44; }
    legend.push(lg);
  }
});

const chart = echarts.init(document.getElementById('c'), null, {renderer:'canvas'});
chart.setOption({
  backgroundColor:'#fff', animation:false,
  grid, xAxis, yAxis, legend, graphic,
  series: bands.concat(lines)
});
</script></body></html>
